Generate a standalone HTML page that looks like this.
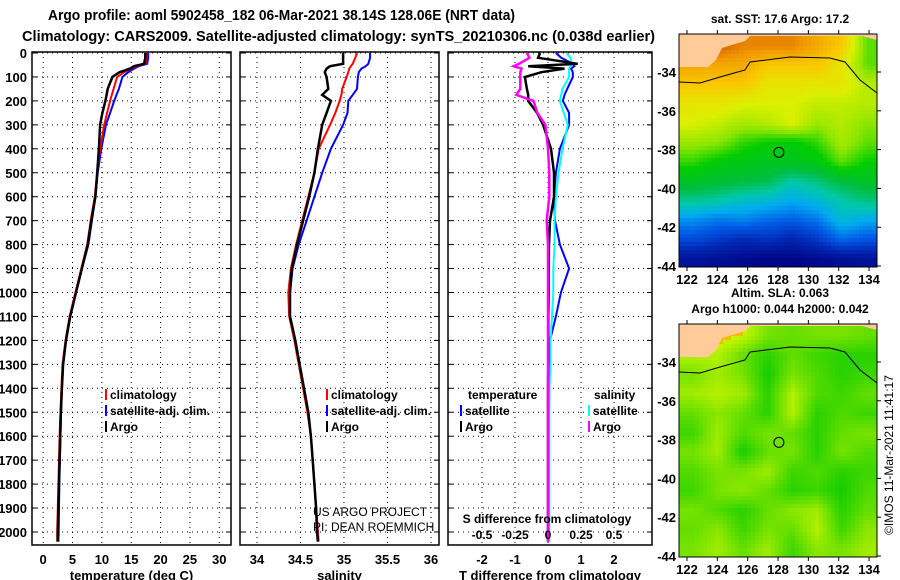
<!DOCTYPE html>
<html><head><meta charset="utf-8"><style>
html,body{margin:0;padding:0;background:#fff;}
svg{display:block;font-family:"Liberation Sans",sans-serif;font-weight:bold;}
</style></head><body>
<svg id="c" width="900" height="580" xmlns="http://www.w3.org/2000/svg">
<text x="48" y="20" font-size="14.5" textLength="467" lengthAdjust="spacingAndGlyphs">Argo profile: aoml 5902458_182 06-Mar-2021 38.14S 128.06E (NRT data)</text>
<text x="22" y="41" font-size="14.5" textLength="633" lengthAdjust="spacingAndGlyphs">Climatology: CARS2009. Satellite-adjusted climatology: synTS_20210306.nc (0.038d earlier)</text>
<text x="780" y="23" font-size="12" text-anchor="middle">sat. SST: 17.6 Argo: 17.2</text>
<text x="780" y="297" font-size="12" text-anchor="middle">Altim. SLA: 0.063</text>
<text x="780" y="313" font-size="12" text-anchor="middle">Argo h1000: 0.044 h2000: 0.042</text>
<text x="0" y="0" font-size="12" font-weight="normal" transform="translate(893,455) rotate(-90)" text-anchor="middle">©IMOS 11-Mar-2021 11:41:17</text>
<g id="g"></g>
</svg>
<script>
const depths=[0,20,45,55,65,80,100,150,175,200,250,300,400,500,600,700,800,900,1000,1100,1200,1300,1400,1500,1600,1700,1800,1900,2000,2040];
const tempArgo=[17.4,17.4,17.2,15.5,14.8,13,11.8,11,10.8,10.6,10.1,9.7,9.5,9.2,8.9,8.2,7.6,6.6,5.6,4.6,3.9,3.4,3.2,3.0,2.9,2.8,2.7,2.6,2.5,2.5];
const tempClim=[17.6,17.6,17.4,16,15,13.8,12.6,12,11.7,11.4,10.9,10.4,9.7,9.2,8.8,8.1,7.5,6.5,5.5,4.5,3.8,3.3,3.1,2.95,2.8,2.7,2.6,2.5,2.4,2.4];
const tempSat=[17.9,17.9,17.7,16.3,15.5,14.5,13.5,12.9,12.5,12.1,11.4,10.7,9.9,9.3,8.9,8.3,7.7,6.6,5.6,4.6,3.9,3.4,3.2,3.05,2.95,2.85,2.75,2.7,2.65,2.6];
const salArgo=[34.99,34.99,34.99,34.84,34.8,34.78,34.8,34.82,34.75,34.85,34.8,34.75,34.7,34.66,34.6,34.53,34.46,34.4,34.38,34.38,34.44,34.49,34.54,34.59,34.62,34.64,34.66,34.68,34.69,34.7];
const salClim=[35.15,35.13,35.1,35.08,35.06,35.05,35.03,34.98,34.97,34.95,34.9,34.84,34.71,34.66,34.59,34.52,34.45,34.39,34.36,34.37,34.43,34.48,34.53,34.58,34.62,34.64,34.66,34.68,34.7,34.71];
const salSat=[35.3,35.3,35.28,35.25,35.2,35.17,35.16,35.15,35.1,35.05,35.04,34.99,34.85,34.75,34.66,34.57,34.48,34.41,34.38,34.38,34.44,34.49,34.54,34.59,34.62,34.64,34.66,34.68,34.7,34.7];
const dTArgo=[-0.24,-0.3,0.9,-0.6,0.5,-0.2,-0.7,-0.64,-0.6,-0.6,-0.33,-0.15,0.09,0.18,0.18,0.06,0.03,0.02,0.02,0.01,0.01,0.01,0,0,0,0,0,0,0,0];
const dSArgo=[-0.16,-0.14,-0.22,-0.26,-0.2,-0.21,-0.21,-0.21,-0.24,-0.11,-0.08,-0.02,0,0.01,0.01,-0.01,0,0,0,0,0,0,0,0,0,0,0,0,0,0];
const dTSat=[0.24,0.4,0.75,0.8,0.7,0.75,0.75,0.58,0.5,0.45,0.64,0.64,0.36,0.24,0.18,0.21,0.36,0.64,0.39,0.24,0.06,0.05,0.04,0.03,0.03,0.03,0.03,0.03,0.03,0.03];
const dSSat=[0.14,0.17,0.18,0.17,0.16,0.16,0.16,0.11,0.1,0.09,0.12,0.15,0.11,0.08,0.06,0.05,0.05,0.04,0.04,0.03,0.02,0.02,0.01,0.01,0.01,0.01,0.01,0.01,0.01,0.01];
const depthTicks=[0,100,200,300,400,500,600,700,800,900,1000,1100,1200,1300,1400,1500,1600,1700,1800,1900,2000];
const tempTicks=[0,5,10,15,20,25,30];
const salTicks=[34,34.5,35,35.5,36];
const dTTicks=[-2,-1,0,1,2];
const dSTicks=[-0.5,-0.25,0,0.25,0.5];
const dSTickLabels=["-0.5","-0.25","0","0.25","0.5"];
const sstGrid=[
[20,20,19.5,19.5,19.5,19,18.5,17],
[19,19,19,18.5,18.5,18.5,18,17],
[18.5,18.5,18.5,18,18,18,18,17.5],
[18,18,17.8,17.8,17.8,17.6,17.6,17.5],
[17.8,17.6,17.4,17.5,17.8,17.3,17.5,17.2],
[17.3,17.2,16.8,16.6,16.5,16.8,17.4,17],
[16.8,16.5,16.4,16.3,16.3,16.4,17,16.6],
[16.2,16.1,16,15.9,15.5,15.7,16,16.2],
[15.6,15.5,15.3,15.2,15,15.2,15.5,15.7],
[14.8,14.6,14.7,14.5,14.4,14.6,15.2,15],
[14.2,14,13.8,13.9,13.7,14,14.5,14.3],
[13.4,13.3,13.2,13.1,13.1,13.2,13.3,13.4]];
const slaGrid=[
[1.2,1.1,1.0,0.6,0.5,0.6,0.6,0.5],
[0.9,0.9,0.5,0.2,0.5,0.3,0.2,0.2],
[0.6,0.8,0.6,0.1,0.6,0.4,0.2,0.3],
[0.8,0.9,0.8,0.2,0.9,0.4,0.3,0.5],
[0.5,0.7,0.5,0.2,0.9,0.2,0.4,0.3],
[0.3,0.8,0.4,0.6,0.5,0.2,0.5,0.6],
[0.6,0.8,0.1,0.5,0.6,0.2,0.6,0.4],
[0.4,0.6,0.6,0.8,0.3,0.4,0.2,0.3],
[0.3,0.6,0.7,0.5,0.2,0.3,0.1,0.4],
[0.6,0.4,0.2,0.5,0.7,0.8,0.2,0.5],
[0.5,0.7,0.3,0.6,0.5,0.9,0.3,0.7],
[0.6,0.8,0.5,0.8,0.3,0.7,0.6,0.8]];
const lonTicks=[122,124,126,128,130,132,134];
const latTicks=[-34,-36,-38,-40,-42,-44];
const argoLon=128.06, argoLat=-38.14;

const NS="http://www.w3.org/2000/svg";
const G=document.getElementById('g');
function el(tag,attrs,parent){const e=document.createElementNS(NS,tag);for(const k in attrs)e.setAttribute(k,attrs[k]);(parent||G).appendChild(e);return e;}
const yD=d=>53+d*0.2395;
const panels=[
 {x0:32,x1:231,vmin:-1.9,vmax:32,ticks:tempTicks,labels:tempTicks.map(String),label:'temperature (deg C)',name:'temperature'},
 {x0:240,x1:439,vmin:33.805,vmax:36.092,ticks:salTicks,labels:salTicks.map(String),label:'salinity',name:'salinity'},
 {x0:448,x1:652,vmin:-3.03,vmax:3.15,ticks:dTTicks,labels:dTTicks.map(String),label:'T difference from climatology',name:'difference'}];
panels.forEach(p=>{p.sx=v=>p.x0+(v-p.vmin)/(p.vmax-p.vmin)*(p.x1-p.x0);});
const yTop=52,yBot=545;
panels.forEach((p,i)=>{
 const grp=el('g',{});
 
 
 depthTicks.forEach(d=>{const l=el('line',{x1:p.x0,x2:p.x1,y1:yD(d),y2:yD(d),stroke:'#000','stroke-dasharray':'1,4','stroke-width':1},grp);
  
  
  el('line',{x1:p.x0,x2:p.x0+5,y1:yD(d),y2:yD(d),stroke:'#000'},grp);el('line',{x1:p.x1-5,x2:p.x1,y1:yD(d),y2:yD(d),stroke:'#000'},grp);});
 p.ticks.forEach((t,j)=>{const x=p.sx(t);const l=el('line',{x1:x,x2:x,y1:yTop,y2:yBot,stroke:'#000','stroke-dasharray':'1,4'},grp);
  
  
  const tx=el('text',{x:x,y:564,'font-size':13,'text-anchor':'middle'},grp);tx.textContent=p.labels[j];
  
  });
 const xl=el('text',{x:(p.x0+p.x1)/2,y:580,'font-size':13,'text-anchor':'middle'},grp);xl.textContent=p.label;
 
 
 const r=el('rect',{x:p.x0,y:yTop,width:p.x1-p.x0,height:yBot-yTop,fill:'none',stroke:'#000','stroke-width':1.5},grp);
 
 
});
depthTicks.forEach(d=>{const t=el('text',{x:27,y:yD(d)+5,'font-size':13,'text-anchor':'end'});t.textContent=d;
 
 });
function line(vals,sx,color,name,w){const pts=vals.map((v,i)=>sx(v).toFixed(1)+','+yD(depths[i]).toFixed(1)).join(' ');const l=el('polyline',{points:pts,fill:'none',stroke:color,'stroke-width':w||2});
 
 }
const P1=panels[0],P2=panels[1],P3=panels[2];
line(tempSat,P1.sx,'#00f','temp-satellite-line');line(tempClim,P1.sx,'#f00','temp-climatology-line');line(tempArgo,P1.sx,'#000','temp-argo-line',2.5);
line(salSat,P2.sx,'#00f','sal-satellite-line');line(salClim,P2.sx,'#f00','sal-climatology-line');line(salArgo,P2.sx,'#000','sal-argo-line',2.5);
const sxS=v=>548+v*132;
line(dTSat,P3.sx,'#00f','dT-satellite-line');line(dSSat,sxS,'#0ff','dS-satellite-line');line(dTArgo,P3.sx,'#000','dT-argo-line',2.5);line(dSArgo,sxS,'#f0f','dS-argo-line',2.5);
dSTicks.forEach((t,j)=>{const tx=el('text',{x:sxS(t),y:539,'font-size':12,'text-anchor':'middle'});tx.textContent=dSTickLabels[j];
 
 });
{const t=el('text',{x:547,y:523,'font-size':12,'text-anchor':'middle'});t.textContent='S difference from climatology';
 
 }
function legend(x,y,color,txt,name){el('rect',{x:x,y:y-10,width:2,height:11,fill:color});const t=el('text',{x:x+5,y:y,'font-size':12});t.textContent=txt;
 
 }
[105,326].forEach(x=>{legend(x,399,'#f00','climatology','legend-climatology');legend(x,415,'#00f','satellite-adj. clim.','legend-satellite-adj');legend(x,431,'#000','Argo','legend-argo');});
{const t=el('text',{x:468,y:399,'font-size':12});t.textContent='temperature';
 
 
 const t2=el('text',{x:594,y:399,'font-size':12});t2.textContent='salinity';
 
 }
legend(460,415,'#00f','satellite','legend-t-satellite');legend(460,431,'#000','Argo','legend-t-argo');
legend(588,415,'#0ff','satellite','legend-s-satellite');legend(588,431,'#f0f','Argo','legend-s-argo');
{const a=el('text',{x:313,y:516,'font-size':12,'font-weight':'normal'});a.textContent='US ARGO PROJECT';
 
 
 const b=el('text',{x:313,y:531,'font-size':12,'font-weight':'normal'});b.textContent='PI: DEAN ROEMMICH';
 
 }

function sstColor(v){const s=[[13,[0,0,128]],[13.8,[0,40,180]],[14.4,[0,90,230]],[15,[0,170,240]],[15.5,[0,200,170]],[16,[0,190,60]],[16.6,[0,205,0]],[17.2,[140,230,0]],[17.8,[220,240,0]],[18.5,[250,200,0]],[19.3,[240,150,0]],[20,[210,90,0]]];
 if(v<=s[0][0])return 'rgb('+s[0][1]+')';for(let i=1;i<s.length;i++){if(v<=s[i][0]){const f=(v-s[i-1][0])/(s[i][0]-s[i-1][0]);return 'rgb('+s[i][1].map((c,k)=>Math.round(s[i-1][1][k]+f*(c-s[i-1][1][k]))).join(',')+')';}}return 'rgb('+s[s.length-1][1]+')';}
function slaColor(v){if(v>1)return 'rgb(240,190,0)';const a=[0,200,0],b=[200,245,0];return 'rgb('+a.map((c,k)=>Math.round(c+v*(b[k]-c))).join(',')+')';}
function drawMap(y0,grid,cf,name){
 const x0=679,x1=877,y1=y0+233;
 const mg=el('g',{});
 
 
 const cell=4,R=grid.length,C=grid[0].length;
 for(let y=y0;y<y1;y+=cell)for(let x=x0;x<x1;x+=cell){
  const gx=Math.min(Math.max((x-x0)/(x1-x0)*C-0.5,0),C-1.001),gy=Math.min(Math.max((y-y0)/(y1-y0)*R-0.5,0),R-1.001);
  const i=Math.floor(gy),j=Math.floor(gx),fy=gy-i,fx=gx-j;
  const v=grid[i][j]*(1-fx)*(1-fy)+grid[i][j+1]*fx*(1-fy)+grid[i+1][j]*(1-fx)*fy+grid[i+1][j+1]*fx*fy;
  el('rect',{x:x,y:y,width:Math.min(cell,x1-x),height:Math.min(cell,y1-y),fill:cf(v)},mg);}
 const o=y0-34;
 const land=el('polygon',{points:`679,${34+o} 877,${34+o} 877,${40+o} 862,${36+o} 750,${36+o} 745,${41+o} 722,${48+o} 716,${60+o} 708,${67+o} 679,${67+o}`,fill:'#ffcc99'},mg);
 
 
 el('polyline',{points:`679,${82+o} 700,${83+o} 720,${77+o} 745,${70+o} 750,${62+o} 790,${57+o} 830,${58+o} 845,${62+o} 860,${80+o} 877,${93+o}`,fill:'none',stroke:'#000','stroke-width':1},mg);
 el('rect',{x:x0,y:y0,width:x1-x0,height:y1-y0,fill:'none',stroke:'#000','stroke-width':1},mg);
 const lx=v=>687+(v-122)*15.17,ly=v=>y0+38+(-34-v)*19.4;
 const c=el('circle',{cx:lx(argoLon),cy:ly(argoLat),r:5,fill:'none',stroke:'#000'},mg);
 
 
 lonTicks.forEach(t=>{el('line',{x1:lx(t),x2:lx(t),y1:y1,y2:y1+4,stroke:'#000'},mg);el('line',{x1:lx(t),x2:lx(t),y1:y0-4,y2:y0,stroke:'#000'},mg);const tx=el('text',{x:lx(t),y:y1+17,'font-size':13,'text-anchor':'middle'},mg);tx.textContent=t;
  
  });
 latTicks.forEach(t=>{el('line',{x1:x1,x2:x1+4,y1:ly(t),y2:ly(t),stroke:'#000'},mg);const tx=el('text',{x:676,y:ly(t)+5,'font-size':13,'text-anchor':'end'},mg);tx.textContent=t;
  
  });
}
drawMap(34,sstGrid,sstColor,'sst-map');
drawMap(324,slaGrid,slaColor,'sla-map');
</script>
</body></html>
